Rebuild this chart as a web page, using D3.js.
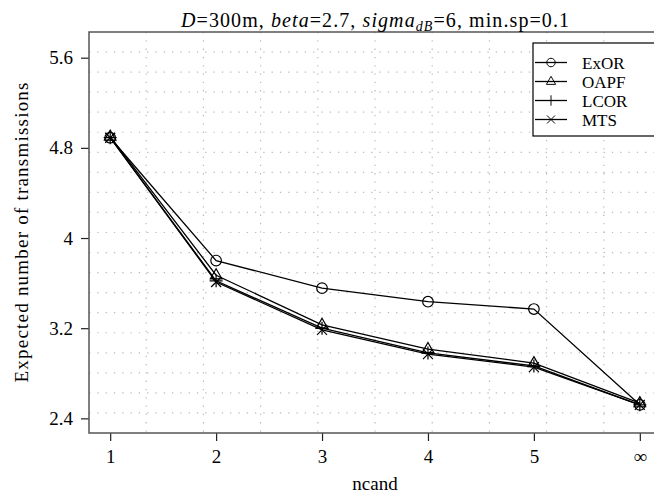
<!DOCTYPE html>
<html>
<head>
<meta charset="utf-8">
<script src="https://cdn.jsdelivr.net/npm/d3@7"></script>
<style>
    body { margin: 0; background: #fff; }
    svg text { font-family: "Liberation Serif", "DejaVu Serif", "Times New Roman", serif; fill: #000; }
</style>
</head>
<body>
<div class="container"></div>
<script>
// data
let ncand = [1, 2, 3, 4, 5, 6];
let ncandLabels = ["1", "2", "3", "4", "5", "\u221e"];
let yTicks = [2.4, 3.2, 4, 4.8, 5.6];

let exor = [4.89, 3.80, 3.555, 3.435, 3.37, 2.52];
let oapf = [4.90, 3.67, 3.23, 3.015, 2.89, 2.535];
let lcor = [4.89, 3.62, 3.20, 2.98, 2.865, 2.52];
let mts = [4.89, 3.61, 3.185, 2.97, 2.855, 2.52];

let seriesNames = ["ExOR", "OAPF", "LCOR", "MTS"];
let seriesValues = [exor, oapf, lcor, mts];
let seriesShapes = ["circle", "triangle", "plus", "cross"];

let svg = d3.select(".container").append("svg")
    .attr("width", 654)
    .attr("height", 497);

let margin = {
    top: 32,
    right: -7,
    bottom: 64,
    left: 89
};

let width = +svg.attr("width") - margin.left - margin.right,
    height = +svg.attr("height") - margin.top - margin.bottom;

let x = d3.scaleLinear().domain([0.8, 6.2]).range([0, width]);
let y = d3.scaleLinear().domain([2.27, 5.828]).range([height, 0]);

let g = svg.append("g")
    .attr("transform", "translate(" + margin.left + "," + margin.top + ")");

// dotted grid, 20 rows x 10 columns of the panel
let grid = g.append("g").attr("class", "grid");
d3.range(1, 20).forEach(function (k) {
    grid.append("line")
        .attr("x1", 0).attr("x2", width)
        .attr("y1", height * k / 20).attr("y2", height * k / 20);
});
d3.range(1, 10).forEach(function (k) {
    grid.append("line")
        .attr("y1", 0).attr("y2", height)
        .attr("x1", width * k / 10).attr("x2", width * k / 10);
});
grid.selectAll("line")
    .attr("stroke", "#bbb")
    .attr("stroke-width", 1.2)
    .attr("stroke-dasharray", "1.3,7");

// axes
let yAxis = d3.axisLeft(y).tickValues(yTicks).tickSize(8).tickPadding(8)
    .tickFormat(function (d) { return String(d); });
let xAxis = d3.axisBottom(x).tickValues(ncand).tickSize(8).tickPadding(9)
    .tickFormat(function (d, i) { return ncandLabels[i]; });

let gy = g.append("g").call(yAxis);
let gx = g.append("g").attr("transform", "translate(0," + height + ")").call(xAxis);
[gx, gy].forEach(function (a) {
    a.attr("font-family", null).attr("font-size", null);
    a.select(".domain").remove();
    a.selectAll("line").attr("stroke", "#222").attr("stroke-width", 1.2);
    a.selectAll("text").style("font-size", "19px").attr("fill", "#000");
});

// frame
g.append("rect")
    .attr("width", width)
    .attr("height", height)
    .attr("fill", "none")
    .attr("stroke", "#555")
    .attr("stroke-width", 1.5);

// lines + markers
let line = d3.line()
    .x(function (d, i) { return x(ncand[i]); })
    .y(function (d) { return y(d); });

function marker(sel, shape) {
    if (shape === "circle") {
        sel.append("circle").attr("r", 5.3);
    } else if (shape === "triangle") {
        sel.append("path").attr("d", "M0,-6.5L5.8,3.6L-5.8,3.6Z");
    } else if (shape === "plus") {
        sel.append("path").attr("d", "M-6.5,0H6.5M0,-6.5V6.5");
    } else {
        sel.append("path").attr("d", "M-5,-5L5,5M-5,5L5,-5");
    }
    sel.selectAll("circle, path")
        .attr("fill", "none")
        .attr("stroke", "#000")
        .attr("stroke-width", 1.2);
}

seriesValues.forEach(function (vals, s) {
    g.append("path")
        .datum(vals)
        .attr("d", line)
        .attr("fill", "none")
        .attr("stroke", "#000")
        .attr("stroke-width", 1.3);
    vals.forEach(function (v, i) {
        let m = g.append("g")
            .attr("transform", "translate(" + x(ncand[i]) + "," + y(v) + ")");
        marker(m, seriesShapes[s]);
    });
});

// legend
let legend = svg.append("g").attr("transform", "translate(533,43)");
legend.append("rect")
    .attr("width", 130)
    .attr("height", 93)
    .attr("fill", "#fff")
    .attr("stroke", "#000")
    .attr("stroke-width", 1.2);
seriesNames.forEach(function (name, s) {
    let row = legend.append("g").attr("transform", "translate(0," + (19.5 + s * 19) + ")");
    row.append("line")
        .attr("x1", 2).attr("x2", 34)
        .attr("stroke", "#000").attr("stroke-width", 1.3);
    let m = row.append("g").attr("transform", "translate(18,0)");
    marker(m, seriesShapes[s]);
    m.attr("transform", "translate(18,0) scale(0.8)");
    row.append("text")
        .attr("x", 49)
        .attr("y", 6)
        .style("font-size", "17px")
        .text(name);
});

// title
let title = svg.append("text")
    .attr("x", margin.left + width / 2)
    .attr("y", 27)
    .attr("text-anchor", "middle")
    .attr("textLength", 388)
    .style("font-size", "20px");
title.append("tspan").style("font-style", "italic").text("D");
title.append("tspan").text("=300m, ");
title.append("tspan").style("font-style", "italic").text("beta");
title.append("tspan").text("=2.7, ");
title.append("tspan").style("font-style", "italic").text("sigma");
title.append("tspan").style("font-style", "italic").style("font-size", "14px").attr("dy", 4).text("dB");
title.append("tspan").attr("dy", -4).text("=6, min.sp=0.1");

// axis titles
svg.append("text")
    .attr("x", margin.left + width / 2)
    .attr("y", 490)
    .attr("text-anchor", "middle")
    .style("font-size", "19px")
    .text("ncand");

svg.append("text")
    .attr("transform", "translate(28," + (margin.top + height / 2) + ") rotate(-90)")
    .attr("text-anchor", "middle")
    .attr("textLength", 300)
    .style("font-size", "19px")
    .text("Expected number of transmissions");
</script>
</body>
</html>
